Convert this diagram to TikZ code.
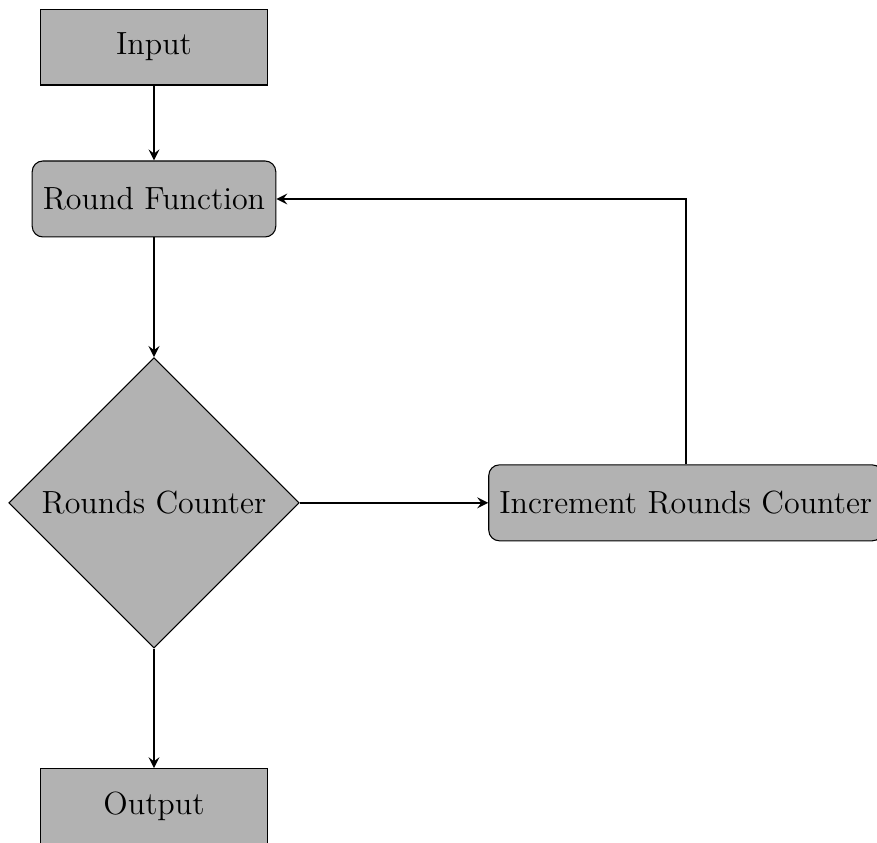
\documentclass[12pt,tikz,border=0pt]{standalone}
\usetikzlibrary{shapes.geometric}
\tikzset{
  blockbox/.style={rectangle, draw=black, fill=black!30, minimum width=3cm, minimum height=1cm, text centered},
  roundbox/.style={rectangle, rounded corners, draw=black, fill=black!30, minimum width=3cm, minimum height=1cm, text centered},
  decisionbox/.style={diamond, aspect=1, draw=black, fill=black!30, text centered},
  flowarrow/.style={thick, -stealth}
}
\begin{document}
\begin{tikzpicture}
  \useasboundingbox (-2.027,0.619) rectangle (9.517,-10.465);
  \node[blockbox] (in) at (0,0) {Input};
  \node[roundbox] (rf) at (0,-2) {Round Function};
  \node[decisionbox] (rc) at (0,-6) {Rounds Counter};
  \node[roundbox] (inc) at (7,-6) {Increment Rounds Counter};
  \node[blockbox] (out) at (0,-10) {Output};
  \draw[flowarrow] (in) -- (rf);
  \draw[flowarrow] (rf) -- (rc);
  \draw[flowarrow] (rc) -- (inc);
  \draw[flowarrow] (inc.north) |- (rf.east);
  \draw[flowarrow] (rc) -- (out);
\end{tikzpicture}
\end{document}
